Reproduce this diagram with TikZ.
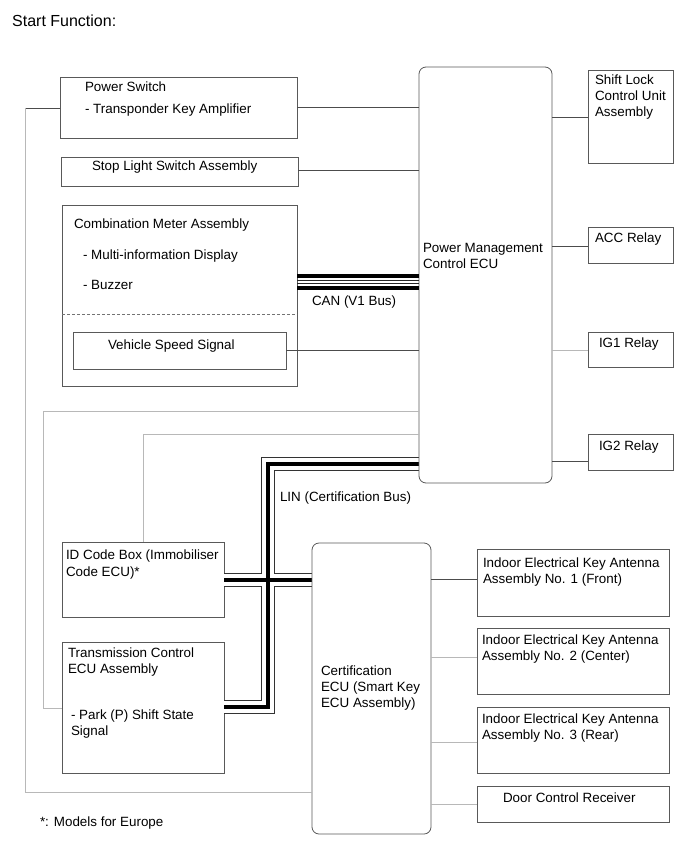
\documentclass[tikz,border=0pt]{standalone}
\usepackage{fontspec}
\setmainfont{Liberation Sans}
\begin{document}
\begin{tikzpicture}[x=1pt,y=-1pt,
  box/.style={draw=black!65,line width=0.8pt,anchor=north west,inner sep=0pt,outer sep=0pt},
  rbox/.style={box,rounded corners=7pt},
  txt/.style={anchor=base west,inner sep=0pt,outer sep=0pt,font=\fontsize{13.4}{16}\selectfont},
  dk/.style={draw=black!70,line width=0.8pt},
  lt/.style={draw=black!28,line width=1pt},
  thickbus/.style={draw=black,line width=3.2pt},
  thinbus/.style={draw=black!85,line width=0.9pt},
]
\useasboundingbox[fill=white] (0,0) rectangle (690,853);

% ---------- boxes ----------
\node[box,minimum width=237pt,minimum height=61pt] (ps) at (60,77) {};
\node[box,minimum width=237pt,minimum height=29pt] (sls) at (61,157) {};
\node[box,minimum width=235pt,minimum height=181pt] (cm) at (62,205) {};
\node[box,minimum width=213pt,minimum height=37pt] (vss) at (73,332) {};
\node[box,minimum width=85pt,minimum height=93pt] (sl) at (588,70) {};
\node[box,minimum width=85pt,minimum height=36pt] (acc) at (588,227) {};
\node[box,minimum width=85pt,minimum height=35pt] (ig1) at (588,332) {};
\node[box,minimum width=85pt,minimum height=36pt] (ig2) at (588,434) {};
\node[box,minimum width=162pt,minimum height=75pt] (id) at (62,542) {};
\node[box,minimum width=162pt,minimum height=131pt] (tcm) at (62,642) {};
\node[box,minimum width=192pt,minimum height=67pt] (a1) at (477,549) {};
\node[box,minimum width=192pt,minimum height=66pt] (a2) at (477,628) {};
\node[box,minimum width=192pt,minimum height=66pt] (a3) at (477,707) {};
\node[box,minimum width=192pt,minimum height=36pt] (dcr) at (477,786) {};

% ---------- LIN bus (drawn below the ECU boxes) ----------
\coordinate (lintop) at (268,464);
\coordinate (linbot) at (268,707);
\coordinate (linx) at (268,580);
\foreach \w/\c in {13.5pt/black!80, 11.5pt/white, 3.8pt/black}{
  \draw[line width=\w,draw=\c,line join=miter]
    (tcm.east |- linbot) -- (linbot) -- (lintop) -- (lintop -| 419,0);
  \draw[line width=\w,draw=\c] (id.east |- linx) -- (312,580);
}

% ---------- ECUs ----------
\node[rbox,fill=white,minimum width=133pt,minimum height=416pt] (pm) at (419,67) {};
\node[rbox,fill=white,minimum width=119pt,minimum height=291pt] (cert) at (312,543) {};

% ---------- dashed separator ----------
\draw[draw=black!55,line width=0.8pt,dash pattern=on 3pt off 2pt] (cm.west |- 0,314) -- (cm.east |- 0,314);

% ---------- CAN bus ----------
\draw[thickbus] (cm.east |- 0,276) -- (pm.west |- 0,276);
\draw[thinbus] (cm.east |- 0,280.5) -- (pm.west |- 0,280.5);
\draw[thinbus] (cm.east |- 0,283.5) -- (pm.west |- 0,283.5);
\draw[thickbus] (cm.east |- 0,288) -- (pm.west |- 0,288);

% ---------- connectors ----------
\draw[dk] (ps.east |- 0,107) -- (pm.west |- 0,107);
\draw[dk] (sls.east |- 0,170) -- (pm.west |- 0,170);
\draw[dk] (vss.east |- 0,350) -- (pm.west |- 0,350);
\draw[dk] (pm.east |- 0,117) -- (sl.west |- 0,117);
\draw[dk] (pm.east |- 0,246) -- (acc.west |- 0,246);
\draw[lt] (pm.east |- 0,350) -- (ig1.west |- 0,350);
\draw[dk] (pm.east |- 0,461) -- (ig2.west |- 0,461);
\draw[dk] (cert.east |- 0,579) -- (a1.west |- 0,579);
\draw[lt] (cert.east |- 0,657) -- (a2.west |- 0,657);
\draw[lt] (cert.east |- 0,742) -- (a3.west |- 0,742);
\draw[lt] (cert.east |- 0,804) -- (dcr.west |- 0,804);

\coordinate (lA) at (25,108);
\coordinate (lB) at (25,792);
\draw[dk] (ps.west |- lA) -- (lA);
\draw[lt] (lA) -- (lB) -- (cert.west |- lB);

\coordinate (mA) at (43,411);
\coordinate (mB) at (43,708);
\draw[lt] (pm.west |- mA) -- (mA) -- (mB) -- (tcm.west |- mB);

\coordinate (nA) at (143,434);
\draw[lt] (pm.west |- nA) -- (nA) -- (id.north -| nA);

% ---------- texts ----------
\node[anchor=base west,inner sep=0pt,font=\fontsize{16}{19}\selectfont] (title) at (12,27) {Start Function:};
\node[txt] (t1) at (85,92) {Power Switch};
\node[txt] (t2) at (85,114) {- Transponder Key Amplifier};
\node[txt] (t3) at (92,171) {Stop Light Switch Assembly};
\node[txt] (t4) at (74,228) {Combination Meter Assembly};
\node[txt] (t5) at (83,259) {- Multi-information Display};
\node[txt] (t6) at (83,289) {- Buzzer};
\node[txt] (t7) at (108,349) {Vehicle Speed Signal};
\node[txt] (t8) at (312,305) {CAN (V1 Bus)};
\node[txt] (t9) at (423,252) {Power Management};
\node[txt] (t10) at (423,268) {Control ECU};
\node[txt] (t11) at (595,85) {Shift Lock};
\node[txt] (t12) at (595,101) {Control Unit};
\node[txt] (t13) at (595,117) {Assembly};
\node[txt] (t14) at (595,242) {ACC Relay};
\node[txt] (t15) at (599,347) {IG1 Relay};
\node[txt] (t16) at (599,450) {IG2 Relay};
\node[txt] (t17) at (280,501) {LIN (Certification Bus)};
\node[txt] (t18) at (66,559) {ID Code Box (Immobiliser};
\node[txt] (t19) at (66,576) {Code ECU)*};
\node[txt] (t20) at (68,657) {Transmission Control};
\node[txt] (t21) at (68,673) {ECU Assembly};
\node[txt] (t22) at (71,719) {- Park (P) Shift State};
\node[txt] (t23) at (71,735) {Signal};
\node[txt] (t24) at (40,826) {*: Models for Europe};
\node[txt] (t25) at (321,675) {Certification};
\node[txt] (t26) at (321,691) {ECU (Smart Key};
\node[txt] (t27) at (321,707) {ECU Assembly)};
\node[txt] (t28) at (483,567) {Indoor Electrical Key Antenna};
\node[txt] (t29) at (483,583) {Assembly No. 1 (Front)};
\node[txt] (t30) at (482,644) {Indoor Electrical Key Antenna};
\node[txt] (t31) at (482,660) {Assembly No. 2 (Center)};
\node[txt] (t32) at (482,723) {Indoor Electrical Key Antenna};
\node[txt] (t33) at (482,739) {Assembly No. 3 (Rear)};
\node[txt] (t34) at (503,802) {Door Control Receiver};
\end{tikzpicture}
\end{document}
